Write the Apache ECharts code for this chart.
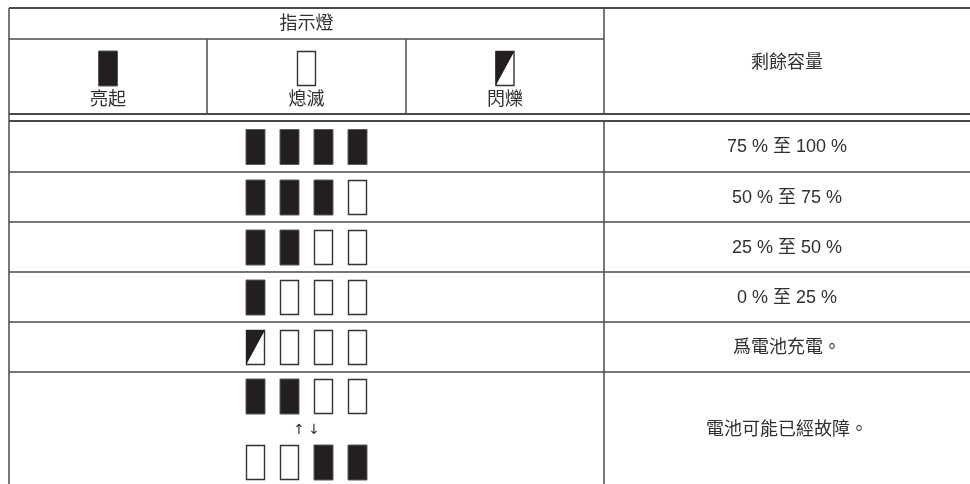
<!DOCTYPE html>
<html><head><meta charset="utf-8">
<script src="https://cdn.jsdelivr.net/npm/echarts@6/dist/echarts.min.js"></script>
<style>html,body{margin:0;padding:0;background:#fff}#c{width:970px;height:484px}</style>
</head><body><div id="c"></div>
<script>
// ---------- data ----------
const indicatorTitle = '指示燈';
const capacityTitle = '剩餘容量';
const legendStates = ['on', 'off', 'blink'];
const legendLabels = ['亮起', '熄滅', '閃爍'];
const capacityLabels = ['75 % 至 100 %', '50 % 至 75 %', '25 % 至 50 %', '0 % 至 25 %', '爲電池充電。', '電池可能已經故障。'];
const lampPatterns = [
  ['on', 'on', 'on', 'on'],
  ['on', 'on', 'on', 'off'],
  ['on', 'on', 'off', 'off'],
  ['on', 'off', 'off', 'off'],
  ['blink', 'off', 'off', 'off']
];
const faultPatternUpper = ['on', 'on', 'off', 'off'];
const faultPatternLower = ['off', 'off', 'on', 'on'];
const faultArrows = ['↑', '↓'];

// ---------- layout ----------
const W = 970, H = 484;
const tableL = 9, tableR = 970, tableT = 8;
const colX = [9, 207, 406, 604];
const header1B = 39, header2B = 114, bodyT = 121;
const rowB = [172, 222, 272, 322, 372, 488];
const lampW = 19, lampH = 35, lampStep = 34;
const indicatorCX = (colX[0] + colX[3]) / 2;
const capacityCX = (colX[3] + tableR) / 2;
const lineColor = '#4a4a4a';
const textColor = '#303030';
const FONT = '18px "Liberation Sans", "Noto Sans CJK TC", sans-serif';

function rowTop(i) { return i === 0 ? bodyT : rowB[i - 1]; }
function rowCenter(i) { return (rowTop(i) + rowB[i]) / 2; }

// line segments of the table grid
const segs = [];
segs.push([tableL, tableT, tableR, tableT, 2]);
segs.push([tableL, header1B, colX[3], header1B, 1.5]);
segs.push([tableL, header2B, tableR, header2B, 2]);
segs.push([tableL, bodyT, tableR, bodyT, 2]);
rowB.slice(0, 5).forEach(y => segs.push([tableL, y, tableR, y, 1.5]));
segs.push([tableL, tableT, tableL, H + 5, 1.5]);
segs.push([colX[3], tableT, colX[3], header2B, 1.5]);
segs.push([colX[3], bodyT, colX[3], H + 5, 1.5]);
segs.push([colX[1], header1B, colX[1], header2B, 1.5]);
segs.push([colX[2], header1B, colX[2], header2B, 1.5]);

// lamp items: [centerX, topY, state]
const lamps = [];
legendStates.forEach((s, i) => lamps.push([(colX[i] + colX[i + 1]) / 2, 51, s]));
lampPatterns.forEach((row, r) => {
  row.forEach((s, k) => lamps.push([indicatorCX + (k - 1.5) * lampStep, rowCenter(r) - lampH / 2 + 0.5, s]));
});
faultPatternUpper.forEach((s, k) => lamps.push([indicatorCX + (k - 1.5) * lampStep, 379, s]));
faultPatternLower.forEach((s, k) => lamps.push([indicatorCX + (k - 1.5) * lampStep, 445, s]));

// text items: [x, y, text, fontSize]
const texts = [];
texts.push([indicatorCX, (tableT + header1B) / 2 + 1, indicatorTitle, 18]);
texts.push([capacityCX, (tableT + header2B) / 2 + 2, capacityTitle, 18]);
legendLabels.forEach((t, i) => texts.push([(colX[i] + colX[i + 1]) / 2, 100, t, 18]));
capacityLabels.forEach((t, i) => texts.push([capacityCX, i < 5 ? rowCenter(i) + 1 : 430, t, 18]));
faultArrows.forEach((t, i) => texts.push([indicatorCX + (i - 0.5) * 15, 430, t, 14]));

function lampEl(api, cx, top, state) {
  const p0 = api.coord([cx - lampW / 2, top]);
  const p1 = api.coord([cx + lampW / 2, top + lampH]);
  const x = p0[0], y = p0[1], w = p1[0] - p0[0], h = p1[1] - p0[1];
  if (state === 'on') {
    return { type: 'rect', shape: { x: x, y: y, width: w, height: h }, style: { fill: '#231f20', stroke: '#5a5a5a', lineWidth: 1 } };
  }
  if (state === 'off') {
    return { type: 'rect', shape: { x: x + 0.5, y: y + 0.5, width: w - 1, height: h - 1 }, style: { fill: '#fff', stroke: '#333', lineWidth: 1.4 } };
  }
  return {
    type: 'group', children: [
      { type: 'rect', shape: { x: x + 0.5, y: y + 0.5, width: w - 1, height: h - 1 }, style: { fill: '#fff', stroke: '#333', lineWidth: 1.4 } },
      { type: 'polygon', shape: { points: [[x, y], [x + w, y], [x, y + h]] }, style: { fill: '#231f20' } }
    ]
  };
}

const chart = echarts.init(document.getElementById('c'), null, { renderer: 'canvas' });
chart.setOption({
  backgroundColor: '#fff',
  animation: false,
  grid: { left: 0, right: 0, top: 0, bottom: 0 },
  xAxis: { type: 'value', min: 0, max: W, show: false },
  yAxis: { type: 'value', min: 0, max: H, inverse: true, show: false },
  series: [
    {
      type: 'custom', coordinateSystem: 'cartesian2d', clip: false, silent: true,
      data: segs,
      renderItem: function (params, api) {
        const d = segs[params.dataIndex];
        const a = api.coord([d[0], d[1]]), b = api.coord([d[2], d[3]]);
        return { type: 'line', shape: { x1: a[0], y1: a[1], x2: b[0], y2: b[1] }, style: { stroke: lineColor, lineWidth: d[4] } };
      }
    },
    {
      type: 'custom', coordinateSystem: 'cartesian2d', clip: false, silent: true,
      data: lamps.map(l => [l[0], l[1]]),
      renderItem: function (params, api) {
        const l = lamps[params.dataIndex];
        return lampEl(api, l[0], l[1], l[2]);
      }
    },
    {
      type: 'custom', coordinateSystem: 'cartesian2d', clip: false, silent: true,
      data: texts.map(t => [t[0], t[1]]),
      renderItem: function (params, api) {
        const t = texts[params.dataIndex];
        const p = api.coord([t[0], t[1]]);
        const isArrow = t[3] !== 18;
        return {
          type: 'text',
          style: {
            x: p[0], y: p[1], text: t[2],
            fill: textColor,
            font: isArrow ? '14px "DejaVu Sans", sans-serif' : FONT,
            align: 'center', verticalAlign: 'middle'
          }
        };
      }
    }
  ]
});
</script>
</body></html>
